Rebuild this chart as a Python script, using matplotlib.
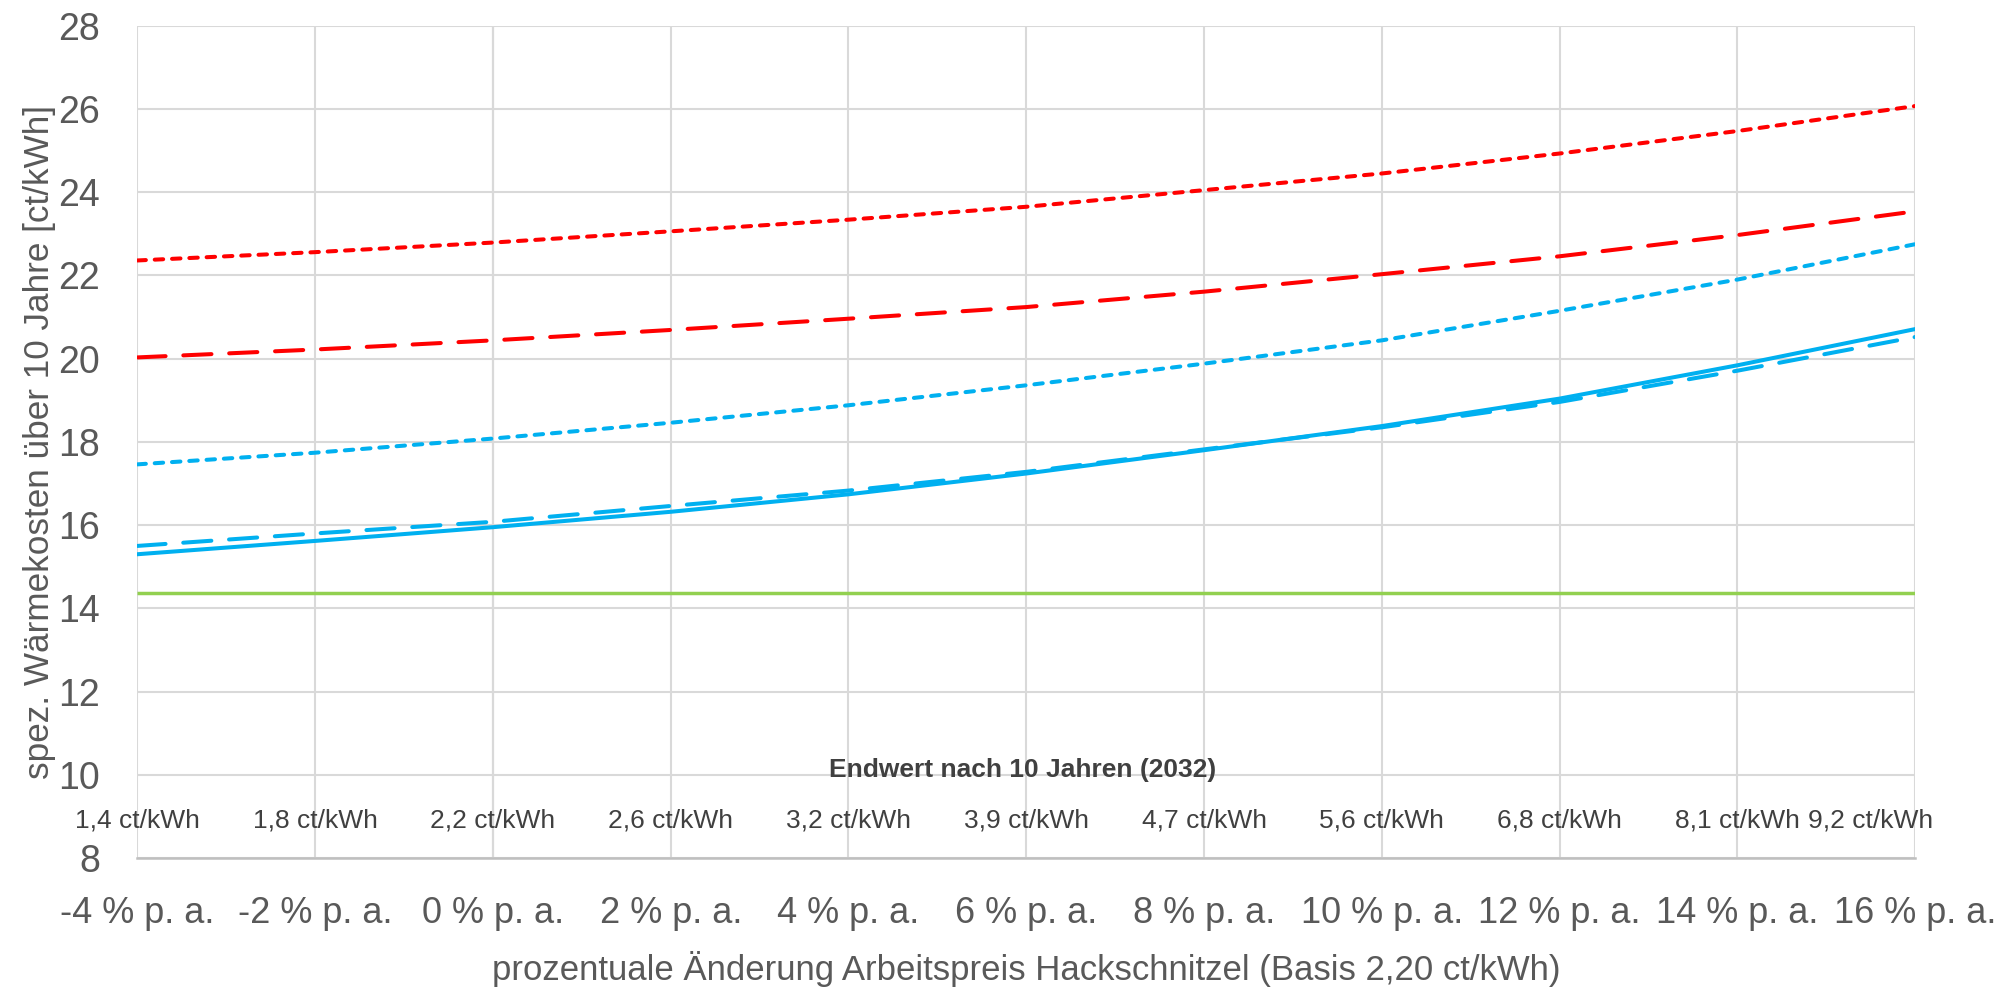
import matplotlib.pyplot as plt
import numpy as np

plt.rcParams['font.family'] = ['Liberation Sans', 'DejaVu Sans']

# x categories (Preisänderung p. a.)
change = [-4, -2, 0, 2, 4, 6, 8, 10, 12, 14, 16]
tick_labels = ['%d %% p. a.' % c for c in change]
endwert = ['1,4 ct/kWh', '1,8 ct/kWh', '2,2 ct/kWh', '2,6 ct/kWh', '3,2 ct/kWh', '3,9 ct/kWh',
           '4,7 ct/kWh', '5,6 ct/kWh', '6,8 ct/kWh', '8,1 ct/kWh', '9,2 ct/kWh']

# values [ct/kWh]
red_dotted = [22.36, 22.56, 22.79, 23.06, 23.34, 23.65, 24.05, 24.45, 24.93, 25.47, 26.07]
red_dashed = [20.03, 20.22, 20.44, 20.69, 20.96, 21.24, 21.61, 22.03, 22.46, 22.97, 23.54]
blue_dotted = [17.46, 17.74, 18.08, 18.46, 18.88, 19.36, 19.88, 20.44, 21.15, 21.90, 22.75]
blue_solid = [15.30, 15.62, 15.95, 16.32, 16.74, 17.24, 17.80, 18.38, 19.04, 19.84, 20.71]
blue_dashed = [15.50, 15.80, 16.08, 16.46, 16.83, 17.28, 17.82, 18.35, 18.96, 19.71, 20.52]
green = [14.38] * 11

red = '#FF0000'
blue = '#00B0F0'
grey = '#595959'

fig = plt.figure(figsize=(20.15, 9.91), dpi=100)
ax = fig.add_axes([0.0682, 0.1342, 0.8822, 0.8398])

x = np.arange(len(change))
lw = 2.9
long_dash = (7.0, 4.4)
short_dash = (2.1, 2.2)
ax.plot(x, green, color='#92D050', lw=2.5, solid_capstyle='butt')
ax.plot(x, blue_solid, color=blue, lw=lw)
ax.plot(x, blue_dashed, color=blue, lw=lw, dashes=long_dash, dash_capstyle='round')
ax.plot(x, blue_dotted, color=blue, lw=lw, dashes=short_dash, dash_capstyle='round')
ax.plot(x, red_dashed, color=red, lw=lw, dashes=long_dash, dash_capstyle='round')
ax.plot(x, red_dotted, color=red, lw=lw, dashes=short_dash, dash_capstyle='round')

ax.set_xlim(0, 10)
ax.set_ylim(8, 28)
ax.set_yticks(np.arange(8, 29, 2))
ax.set_xticks(x)
ax.set_xticklabels(tick_labels)
ax.tick_params(axis='both', length=0, labelcolor=grey)
ax.tick_params(axis='x', pad=27, labelsize=26)
ax.tick_params(axis='y', pad=27, labelsize=27)

ax.grid(True, color='#d9d9d9', lw=1.5)
ax.set_axisbelow(True)
for s in ['left', 'top', 'right']:
    ax.spines[s].set_visible(False)
ax.spines['bottom'].set_color('#bfbfbf')
ax.spines['bottom'].set_linewidth(1.8)
# slightly darker line at 0 % p. a.
ax.axvline(2, color='#c4c4c4', lw=1.5, zorder=0.5)

ax.set_xlabel('prozentuale Änderung Arbeitspreis Hackschnitzel (Basis 2,20 ct/kWh)',
              fontsize=25, color=grey, labelpad=15)
ax.set_ylabel('spez. Wärmekosten über 10 Jahre [ct/kWh]', fontsize=25.3, color=grey)
ax.yaxis.set_label_coords(-0.046, 0.5)

# Endwert labels inside the plot
offsets = [0] * 10 + [-32]
for i, lab in enumerate(endwert):
    ax.annotate(lab, (x[i], 8.91), xytext=(offsets[i], 0), textcoords='offset points',
                ha='center', va='center', fontsize=19, color='#404040')
ax.text(4.98, 10.11, 'Endwert nach 10 Jahren (2032)', ha='center', va='center',
        fontsize=19, fontweight='bold', color='#404040')

fig.savefig('out.png', dpi=100)
